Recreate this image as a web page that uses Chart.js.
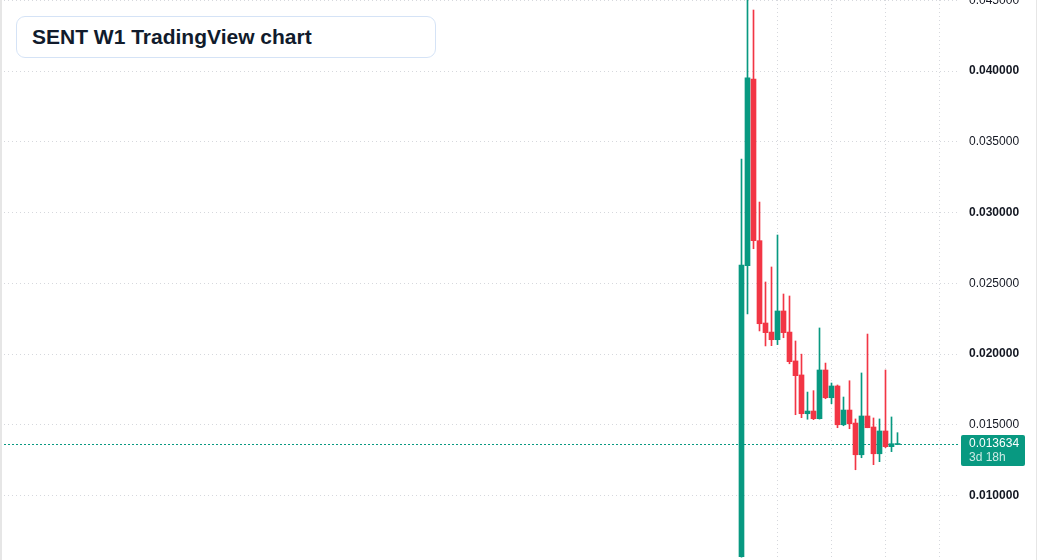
<!DOCTYPE html>
<html>
<head>
<meta charset="utf-8">
<title>SENT W1 TradingView chart</title>
<script src="https://cdn.jsdelivr.net/npm/chart.js@4.4.1/dist/chart.umd.min.js"></script>
<style>
  html, body { margin: 0; padding: 0; background: #fff; }
  #wrap { position: relative; width: 1037px; height: 560px; overflow: hidden; }
  #title {
    position: absolute; left: 16px; top: 16px; width: 420px; height: 42px;
    box-sizing: border-box; border: 1px solid #d5e3f6; border-radius: 9px; background: #fff;
    padding-left: 15px;
    font: bold 21px "Liberation Sans", Arial, sans-serif; line-height: 40px; color: #111b2c;
  }
  .edge { position: absolute; top: 0; height: 560px; background: #e6e6e6; }
</style>
</head>
<body>
<div id="wrap">
  <canvas id="chart" width="1037" height="560"></canvas>
  <div id="title">SENT W1 TradingView chart</div>
  <div class="edge" style="left:0;width:2px"></div>
  <div class="edge" style="left:1036px;width:1px"></div>
</div>
<script>
// weekly candles, index = weeks since listing
const weeks  = [0, 1, 2, 3, 4, 5, 6, 7, 8, 9, 10, 11, 12, 13, 14, 15, 16, 17, 18, 19, 20, 21, 22, 23, 24, 25, 26];
const opens  = [0.00568, 0.02624, 0.03943, 0.02801, 0.02219, 0.02155, 0.02101, 0.02304, 0.02155, 0.01951,
                0.01852, 0.01578, 0.01597, 0.01543, 0.01887, 0.01691, 0.01774, 0.01500, 0.01604, 0.01512,
                0.01288, 0.01562, 0.01484, 0.01295, 0.01456, 0.01345, 0.01360];
const highs  = [0.03378, 0.04650, 0.04431, 0.03074, 0.02509, 0.02615, 0.02841, 0.02424, 0.02410, 0.02092,
                0.01999, 0.01731, 0.01741, 0.02184, 0.01936, 0.01795, 0.01781, 0.01696, 0.01811, 0.01541,
                0.01866, 0.02141, 0.01548, 0.01541, 0.01887, 0.01555, 0.01444];
const lows   = [0.00565, 0.02283, 0.02744, 0.02163, 0.02057, 0.02059, 0.02066, 0.02115, 0.01931, 0.01571,
                0.01550, 0.01539, 0.01536, 0.01540, 0.01684, 0.01649, 0.01479, 0.01493, 0.01472, 0.01182,
                0.01267, 0.01479, 0.01218, 0.01239, 0.01338, 0.01310, 0.01359];
const closes = [0.02629, 0.03951, 0.02801, 0.02214, 0.02151, 0.02101, 0.02304, 0.02151, 0.01946, 0.01847,
                0.01578, 0.01597, 0.01543, 0.01887, 0.01691, 0.01774, 0.01500, 0.01604, 0.01507, 0.01288,
                0.01562, 0.01479, 0.01295, 0.01456, 0.01345, 0.01366, 0.013634];

const priceTicks = [0.010, 0.015, 0.020, 0.025, 0.030, 0.035, 0.040, 0.045];
const timeGridWeeks = [6, 15, 24, 33];
const lastPrice = 0.013634;
const countdown = "3d 18h";

const UP = "#089981";
const DOWN = "#f23645";
const FONT = '"Liberation Sans", Arial, sans-serif';

const candleColors = weeks.map((w, i) => closes[i] >= opens[i] ? UP : DOWN);

const lastPricePlugin = {
  id: "lastPrice",
  beforeDatasetsDraw(chart) {
    const { ctx, chartArea } = chart;
    const y = Math.round(chart.scales.y.getPixelForValue(lastPrice)) + 0.5;
    ctx.save();
    ctx.strokeStyle = UP;
    ctx.lineWidth = 1;
    ctx.setLineDash([2, 2]);
    ctx.beginPath();
    ctx.moveTo(chartArea.left, y);
    ctx.lineTo(chartArea.right, y);
    ctx.stroke();
    ctx.restore();
  },
  afterDraw(chart) {
    const { ctx, chartArea } = chart;
    const y = chart.scales.y.getPixelForValue(lastPrice);
    const x = chartArea.right + 2;
    ctx.save();
    ctx.fillStyle = UP;
    ctx.beginPath();
    ctx.roundRect(x, Math.round(y - 9), 64, 31, 2);
    ctx.fill();
    ctx.font = "12px " + FONT;
    ctx.textBaseline = "middle";
    ctx.fillStyle = "#ffffff";
    ctx.fillText(lastPrice.toFixed(6), x + 8, y);
    ctx.fillStyle = "rgba(255,255,255,0.8)";
    ctx.fillText(countdown, x + 8, y + 13.5);
    ctx.restore();
  }
};

new Chart(document.getElementById("chart"), {
  type: "bar",
  data: {
    datasets: [
      {
        label: "wick",
        data: weeks.map((w, i) => ({ x: w, y: [lows[i], highs[i]] })),
        backgroundColor: candleColors,
        barThickness: 1,
        minBarLength: 1,
        grouped: false
      },
      {
        label: "body",
        data: weeks.map((w, i) => ({ x: w, y: [opens[i], closes[i]] })),
        backgroundColor: candleColors,
        barThickness: 5,
        minBarLength: 1,
        grouped: false
      }
    ]
  },
  options: {
    responsive: false,
    animation: false,
    layout: { padding: { left: 0, right: 18, top: 0, bottom: 0 } },
    plugins: { legend: { display: false }, tooltip: { enabled: false } },
    scales: {
      x: {
        type: "linear",
        min: -123.58,
        max: 36.25,
        bounds: "data",
        offset: false,
        afterBuildTicks: s => { s.ticks = timeGridWeeks.map(v => ({ value: v })); },
        afterFit: s => { s.height = 0; s.paddingLeft = 0; s.paddingRight = 0; },
        ticks: { display: false },
        grid: { color: "#d6d8dd", drawTicks: false, offset: false },
        border: { display: false, dash: [1, 3] }
      },
      y: {
        position: "right",
        min: 0.005442,
        max: 0.045018,
        afterBuildTicks: s => { s.ticks = priceTicks.map(v => ({ value: v })); },
        afterFit: s => { s.width = 60; s.paddingTop = 0; s.paddingBottom = 0; },
        ticks: {
          padding: 10,
          color: "#131722",
          callback: v => v.toFixed(6),
          font: c => ({
            family: FONT,
            size: 12,
            weight: c.tick && Math.round(c.tick.value * 1000) % 10 === 0 ? "bold" : "normal"
          })
        },
        grid: { color: "#d6d8dd", drawTicks: false },
        border: { display: false, dash: [1, 3] }
      }
    }
  },
  plugins: [lastPricePlugin]
});
</script>
</body>
</html>
